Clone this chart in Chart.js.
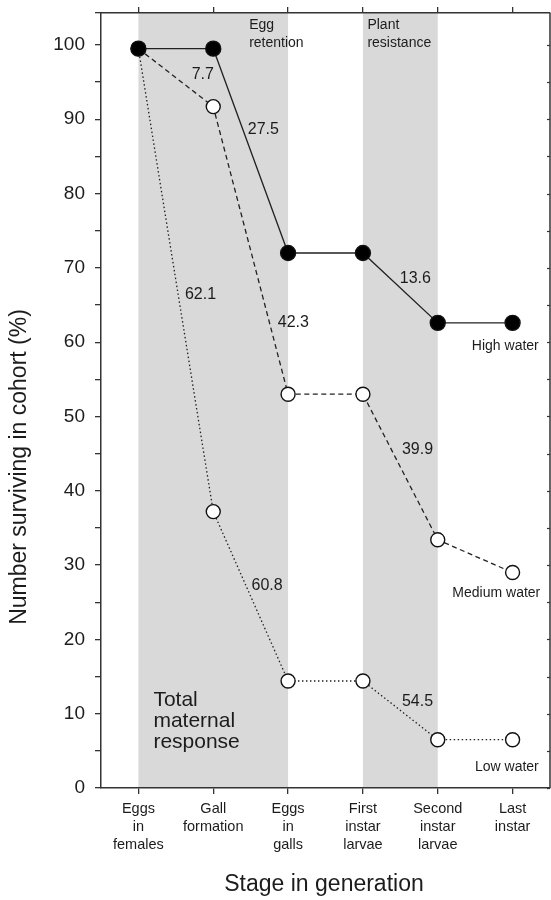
<!DOCTYPE html>
<html>
<head>
<meta charset="utf-8">
<script src="https://cdn.jsdelivr.net/npm/chart.js@4.4.1/dist/chart.umd.min.js"></script>
<style>
  html, body { margin: 0; padding: 0; background: #fff; }
  canvas { display: block; }
</style>
</head>
<body>
<canvas id="cohort" width="551" height="900"></canvas>
<script>
// stages of the generation (multi-line tick labels)
const stages = [
    ['Eggs', 'in', 'females'],
    ['Gall', 'formation'],
    ['Eggs', 'in', 'galls'],
    ['First', 'instar', 'larvae'],
    ['Second', 'instar', 'larvae'],
    ['Last', 'instar']
];

// % of cohort surviving at each stage
const highWater = [99.5, 99.5, 72.0, 72.0, 62.6, 62.6];
const mediumWater = [99.5, 91.7, 53.0, 53.0, 33.4, 29.0];
const lowWater = [99.5, 37.2, 14.4, 14.4, 6.5, 6.5];

// shaded stage ranges (from index, to index)
const shadedStages = [[0, 2], [3, 4]];

// mortality between stages (%)
const lossText = ['7.7', '27.5', '62.1', '42.3', '13.6', '39.9', '60.8', '54.5'];
const lossAt = [[0.86, 96.0], [1.67, 88.6], [0.83, 66.4], [2.07, 62.7],
                [3.70, 68.6], [3.73, 45.5], [1.72, 27.3], [3.73, 11.6]];

const FONT = '"Liberation Sans", Arial, Helvetica, sans-serif';
const INK = '#1c1c1c';

// keep chart area edges fixed: no extra room for overhanging labels
function noPad(s) {
    s.paddingTop = 0;
    s.paddingBottom = 0;
    s.paddingLeft = 0;
    s.paddingRight = 0;
}

var bgPlugin = {
    id: 'bands',
    beforeDraw: function (chart) {
        var ctx = chart.ctx;
        var area = chart.chartArea;
        var x = chart.scales.x;
        ctx.save();
        ctx.fillStyle = '#fff';
        ctx.fillRect(0, 0, chart.width, chart.height);
        ctx.fillStyle = '#d9d9d9';
        shadedStages.forEach(function (r) {
            var x0 = x.getPixelForValue(r[0]);
            var x1 = x.getPixelForValue(r[1]);
            ctx.fillRect(x0, area.top, x1 - x0, area.bottom - area.top);
        });
        ctx.restore();
    }
};

var notePlugin = {
    id: 'notes',
    afterDraw: function (chart) {
        var ctx = chart.ctx;
        var x = chart.scales.x;
        var y = chart.scales.y;
        var area = chart.chartArea;
        ctx.save();

        // right frame with small inward ticks
        ctx.strokeStyle = '#333';
        ctx.lineWidth = 1.5;
        ctx.beginPath();
        ctx.moveTo(area.right, area.top);
        ctx.lineTo(area.right, area.bottom);
        ctx.stroke();
        ctx.lineWidth = 1.2;
        for (var v = 0; v <= 100; v += 5) {
            var py = Math.round(y.getPixelForValue(v)) + 0.5;
            ctx.beginPath();
            ctx.moveTo(area.right - 3, py);
            ctx.lineTo(area.right, py);
            ctx.stroke();
        }

        ctx.fillStyle = INK;
        ctx.textBaseline = 'middle';

        // loss numbers
        ctx.font = '16px ' + FONT;
        ctx.textAlign = 'center';
        lossText.forEach(function (t, i) {
            ctx.fillText(t, x.getPixelForValue(lossAt[i][0]), y.getPixelForValue(lossAt[i][1]));
        });

        // series names
        ctx.font = '14px ' + FONT;
        ctx.textAlign = 'right';
        ctx.fillText('High water', x.getPixelForValue(5.35), y.getPixelForValue(59.5));
        ctx.fillText('Medium water', x.getPixelForValue(5.37), y.getPixelForValue(26.2));
        ctx.fillText('Low water', x.getPixelForValue(5.35), y.getPixelForValue(2.8));

        // band headings
        ctx.textAlign = 'left';
        var top = y.getPixelForValue(102.7);
        ctx.fillText('Egg', x.getPixelForValue(1.48), top);
        ctx.fillText('retention', x.getPixelForValue(1.48), top + 18);
        ctx.fillText('Plant', x.getPixelForValue(3.06), top);
        ctx.fillText('resistance', x.getPixelForValue(3.06), top + 18);

        ctx.font = '21px ' + FONT;
        var ty = y.getPixelForValue(11.8);
        ['Total', 'maternal', 'response'].forEach(function (t, i) {
            ctx.fillText(t, x.getPixelForValue(0.2), ty + i * 21);
        });

        // axis titles
        ctx.font = '23px ' + FONT;
        ctx.textAlign = 'center';
        ctx.fillText('Stage in generation', 324, 885);
        ctx.translate(20, 467);
        ctx.rotate(-Math.PI / 2);
        ctx.fillText('Number surviving in cohort (%)', 0, 0);
        ctx.restore();
    }
};

function seriesStyle(label, data, fill, dash, radius, order) {
    return {
        label: label,
        data: data,
        borderColor: '#222',
        borderWidth: 1.3,
        borderDash: dash,
        pointRadius: radius,
        pointBackgroundColor: fill,
        pointBorderColor: '#111',
        pointBorderWidth: 1.4,
        tension: 0,
        clip: false,
        order: order
    };
}

var ctx = document.getElementById('cohort').getContext('2d');
var cohortChart = new Chart(ctx, {
    type: 'line',
    data: {
        labels: stages,
        datasets: [
            seriesStyle('High water', highWater, '#000', [], 7.5, 0),
            seriesStyle('Medium water', mediumWater, '#fff', [5, 3.5], 7, 1),
            seriesStyle('Low water', lowWater, '#fff', [1.5, 2.5], 7, 2)
        ]
    },
    options: {
        responsive: false,
        animation: false,
        events: [],
        layout: { autoPadding: false, padding: { left: 0, right: 1, top: 0, bottom: 0 } },
        plugins: {
            legend: { display: false },
            tooltip: { enabled: false }
        },
        scales: {
            x: {
                type: 'category',
                position: 'bottom',
                offset: true,
                grid: { drawOnChartArea: false, offset: false, tickLength: 6, color: '#333', lineWidth: 1.3 },
                border: { color: '#333', width: 1.5 },
                ticks: {
                    color: INK,
                    font: { family: FONT, size: 14.5, lineHeight: 1.25 },
                    padding: 6,
                    maxRotation: 0,
                    autoSkip: false
                },
                afterFit: function (s) { s.height = 112; noPad(s); }
            },
            xTop: {
                type: 'category',
                position: 'top',
                offset: true,
                labels: stages,
                grid: { drawOnChartArea: false, offset: false, tickLength: 6, color: '#333', lineWidth: 1.3 },
                border: { color: '#333', width: 1.5 },
                ticks: { display: false },
                afterFit: function (s) { s.height = 13; noPad(s); }
            },
            y: {
                type: 'linear',
                min: 0,
                max: 104.3,
                grid: { drawOnChartArea: false, tickLength: 6, color: '#333', lineWidth: 1.3 },
                border: { color: '#333', width: 1.5 },
                ticks: {
                    stepSize: 5,
                    color: INK,
                    padding: 10,
                    font: { family: FONT, size: 19 },
                    callback: function (v) { return (v % 10 === 0) ? v : ''; }
                },
                afterFit: function (s) { s.width = 101; noPad(s); }
            }
        }
    },
    plugins: [bgPlugin, notePlugin]
});
</script>
</body>
</html>
